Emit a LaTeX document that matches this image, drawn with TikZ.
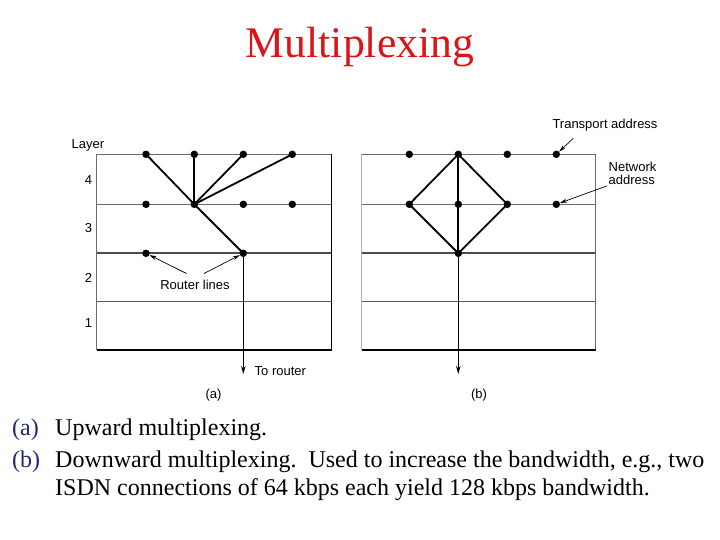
\documentclass[tikz,border=0pt]{standalone}
\usepackage{fontspec}
\setmainfont{Liberation Serif}
\newfontfamily\diagfont{Liberation Sans}
\usetikzlibrary{arrows.meta}
\definecolor{titlered}{RGB}{220,20,25}
\definecolor{labblue}{RGB}{30,40,120}
\tikzset{
  dot/.style={circle,fill=black,inner sep=0pt,minimum size=7.5pt},
  conn/.style={line width=1.8pt,black},
  grid/.style={line width=1pt,gray!85!black},
  thickgrid/.style={line width=2pt,black!70},
  edge/.style={line width=1.2pt,black},
  lbl/.style={font=\diagfont\fontsize{13}{14}\selectfont,inner sep=0pt},
  ptr/.style={line width=0.7pt,-{Stealth[length=7pt,width=4pt]}},
  down/.style={line width=1.6pt,-{Stealth[length=8pt,width=4.5pt]}},
  body/.style={font=\fontsize{24}{28}\selectfont,anchor=base west,inner sep=0pt},
  tag/.style={font=\fontsize{24}{28}\selectfont,anchor=base west,inner sep=0pt,text=labblue}
}
\begin{document}
\begin{tikzpicture}[x=1pt,y=-1pt]
\useasboundingbox (0,0) rectangle (720,540);
% title
\node[font=\fontsize{43.7}{50}\selectfont,text=titlered,anchor=base,inner sep=0pt] (title) at (360,58) {Multiplexing};

% ---------- panel (a) ----------
\draw[grid] (96.7,154.3) -- (331.7,154.3);
\draw[grid] (96.7,204.3) -- (331.7,204.3);
\draw[thickgrid] (96.7,253.3) -- (331.7,253.3);
\draw[grid,black!65] (96.7,301.7) -- (331.7,301.7);
\draw[grid] (96.7,154.3) -- (96.7,350);
\draw[edge] (331.7,154.3) -- (331.7,350);
\draw[edge] (96.7,350) -- (331.7,350);

\node[dot] (a1) at (146,154.3) {};
\node[dot] (a2) at (194.3,154.3) {};
\node[dot] (a3) at (243.3,154.3) {};
\node[dot] (a4) at (292.3,154.3) {};
\node[dot] (b1) at (146,204.3) {};
\node[dot] (b2) at (194.3,204.3) {};
\node[dot] (b3) at (243.3,204.3) {};
\node[dot] (b4) at (292.3,204.3) {};
\node[dot] (c1) at (146,253.3) {};
\node[dot] (c3) at (243.3,253.3) {};
\coordinate (aout) at (243.3,374);

\draw[conn] (a1.center) -- (b2.center);
\draw[conn] (a2.center) -- (b2.center);
\draw[conn] (a3.center) -- (b2.center);
\draw[conn] (a4.center) -- (b2.center);
\draw[conn] (b2.center) -- (c3.center);
\draw[down] (c3.center) -- (aout);

\node[lbl] (layer) at (88,145) {Layer};
\node[lbl] (l4) at (88.5,180) {4};
\node[lbl] (l3) at (88.5,228) {3};
\node[lbl] (l2) at (88.5,278) {2};
\node[lbl] (l1) at (88.5,323) {1};
\node[lbl] (rl) at (195,284.5) {Router lines};
\coordinate (rlA) at (186.5,273.5);
\coordinate (rlB) at (204,273.5);
\draw[ptr] (rlA) -- (c1);
\draw[ptr] (rlB) -- (c3);
\node[lbl,anchor=west] (tr) at (254.5,371.5) {To router};
\node[lbl] (capa) at (213.5,395) {(a)};

% ---------- panel (b) ----------
\draw[grid] (361.7,154.3) -- (595.7,154.3);
\draw[grid] (361.7,204.3) -- (595.7,204.3);
\draw[thickgrid] (361.7,253.3) -- (595.7,253.3);
\draw[grid,black!65] (361.7,301.7) -- (595.7,301.7);
\draw[grid,gray!60] (361.7,154.3) -- (361.7,350);
\draw[grid] (595.7,154.3) -- (595.7,350);
\draw[edge] (361.7,350) -- (595.7,350);

\node[dot] (d1) at (409.3,154.3) {};
\node[dot] (d2) at (458.3,154.3) {};
\node[dot] (d3) at (507.3,154.3) {};
\node[dot] (d4) at (556.3,154.3) {};
\node[dot] (e1) at (409.3,204.3) {};
\node[dot] (e2) at (458.3,204.3) {};
\node[dot] (e3) at (507.3,204.3) {};
\node[dot] (e4) at (556.3,204.3) {};
\node[dot] (f2) at (458.3,253.3) {};
\coordinate (bout) at (458.3,374);

\draw[conn] (d2.center) -- (e1.center) -- (f2.center) -- (e3.center) -- cycle;
\draw[conn] (d2.center) -- (f2.center);
\draw[down] (f2.center) -- (bout);

\node[lbl] (ta) at (605,125) {Transport address};
\coordinate (taA) at (573.3,138.3);
\draw[ptr] (taA) -- (d4);
\node[lbl,align=left,anchor=west] (na) at (608.5,173.2) {Network\\[-1.2pt]address};
\coordinate (naA) at (606.7,186);
\draw[ptr] (naA) -- (e4);
\node[lbl] (capb) at (479,395) {(b)};

% ---------- caption ----------
\node[tag] (ta1) at (12,435) {(a)};
\node[body] (t1) at (55,435) {Upward multiplexing.};
\node[tag] (tb1) at (12,467) {(b)};
\node[body] (t2) at (55,467) {Downward multiplexing.\ \ Used to increase the bandwidth, e.g., two};
\node[body] (t3) at (55,495) {ISDN connections of 64 kbps each yield 128 kbps bandwidth.};
\end{tikzpicture}
\end{document}
